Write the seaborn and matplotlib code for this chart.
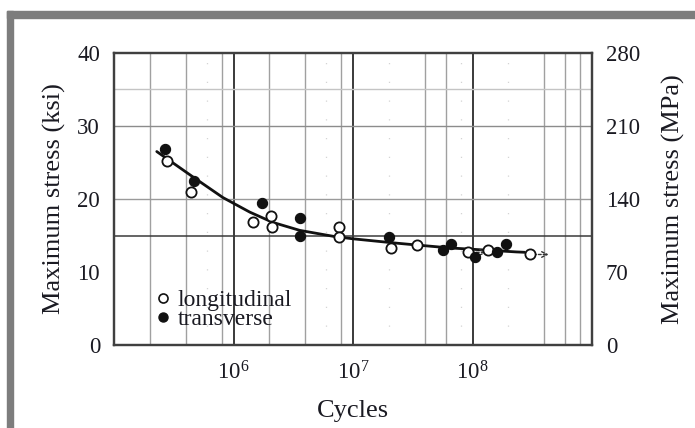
import matplotlib
matplotlib.use("Agg")
import matplotlib.pyplot as plt
from matplotlib.patches import Rectangle
from matplotlib.lines import Line2D
import matplotlib.ticker as mticker
import pandas as pd
import seaborn as sns

# Fatigue results: cycles to failure and maximum stress (ksi)
long_cycles = [2.75e5, 4.37e5, 1.45e6, 2.04e6, 2.08e6, 7.66e6, 7.66e6,
               2.06e7, 3.4e7, 9.1e7, 1.35e8, 3.0e8]
long_stress = [25.2, 20.9, 16.9, 17.7, 16.1, 16.1, 14.8,
               13.3, 13.7, 12.7, 13.0, 12.4]
trans_cycles = [2.67e5, 4.67e5, 1.72e6, 3.59e6, 3.59e6, 2.0e7, 5.67e7,
                6.6e7, 1.04e8, 1.6e8, 1.9e8]
trans_stress = [26.9, 22.5, 19.4, 17.4, 14.9, 14.8, 13.0,
                13.8, 12.0, 12.7, 13.9]

# Run-out specimens (no failure)
runout_cycles = [9.1e7, 3.0e8]
runout_stress = [12.7, 12.4]

# Mean S-N curve
fit_cycles = [2.28e5, 4.6e5, 8.15e5, 1.37e6, 2.13e6, 3.59e6, 6.78e6,
              9.95e6, 2.15e7, 3.4e7, 6.44e7, 2.33e8, 2.73e8]
fit_stress = [26.5, 23.0, 20.2, 18.2, 16.8, 15.7, 14.9,
              14.55, 14.0, 13.7, 13.3, 12.75, 12.7]

ksi_ticks = [0, 10, 20, 30, 40]
mpa_ticks = [0, 70, 140, 210, 280]
cycle_ticks = [1e6, 1e7, 1e8]
cycle_labels = [r"$\mathregular{10^{6}}$", r"$\mathregular{10^{7}}$", r"$\mathregular{10^{8}}$"]

sns.set_style("white")
plt.rcParams["font.family"] = ["Liberation Serif", "DejaVu Serif"]
plt.rcParams["mathtext.fontset"] = "custom"
plt.rcParams["mathtext.rm"] = "Liberation Serif"

TXT = "#1a1a22"
W, H = 695, 428
fig = plt.figure(figsize=(W / 100, H / 100), dpi=100)

# grey frame along the top and left edges
fig.patches.append(Rectangle((7 / W, 0), 6 / W, 1 - 11 / H, transform=fig.transFigure,
                             color="#7d7d7d", zorder=0))
fig.patches.append(Rectangle((7 / W, 1 - 18 / H), 1 - 7 / W, 7 / H, transform=fig.transFigure,
                             color="#7d7d7d", zorder=0))

x0, x1, y0, y1 = 114, 592, 53, 345
ax = fig.add_axes([x0 / W, 1 - y1 / H, (x1 - x0) / W, (y1 - y0) / H])
ax.set_xscale("log")
ax.set_xlim(1e5, 1e9)
ax.set_ylim(0, 40)

# grid lines
for v in [2e5, 4e5, 8e5, 2e6, 4e6, 8e6, 4e7, 6e7, 4e8, 6e8, 8e8]:
    ax.axvline(v, color="#a0a0a0", lw=1.0, zorder=1)
for v in [6e5, 6e6, 2e7, 8e7, 2e8]:
    ax.axvline(v, color="#d4d4d4", lw=0.9, ls=(0, (1, 14)), zorder=1)
for v in cycle_ticks:
    ax.axvline(v, color="#3a3a3a", lw=1.4, zorder=1)
for v, c in [(35, "#c4c4c4"), (30, "#8c8c8c"), (20, "#9a9a9a")]:
    ax.axhline(v, color=c, lw=1.0, zorder=1)
ax.axhline(15, color="#3a3a3a", lw=1.1, zorder=1)

# S-N curve
fit_df = pd.DataFrame({"cycles": fit_cycles, "stress": fit_stress})
sns.lineplot(data=fit_df, x="cycles", y="stress", ax=ax, color="#111111", lw=2.0,
             zorder=3, legend=False)

# run-out arrows
for c, s in zip(runout_cycles, runout_stress):
    ax.annotate("", xy=(c * 1.45, s), xytext=(c * 1.08, s),
                arrowprops=dict(arrowstyle="->", color="#333333", lw=1.0, ls=(0, (2, 1.5)),
                                shrinkA=0, shrinkB=0), zorder=3)

long_df = pd.DataFrame({"cycles": long_cycles, "stress": long_stress})
trans_df = pd.DataFrame({"cycles": trans_cycles, "stress": trans_stress})
sns.scatterplot(data=long_df, x="cycles", y="stress", ax=ax, marker="o", s=54,
                facecolor="white", edgecolor="#111111", linewidth=1.3, zorder=4)
sns.scatterplot(data=trans_df, x="cycles", y="stress", ax=ax, marker="o", s=54,
                color="#111111", edgecolor="#111111", linewidth=0.8, zorder=5)

ax.set_xticks(cycle_ticks)
ax.set_xticklabels(cycle_labels)
ax.xaxis.set_minor_locator(mticker.NullLocator())
ax.set_yticks(ksi_ticks)
ax.tick_params(axis="both", length=0, labelsize=16.5, colors=TXT)
ax.tick_params(axis="x", pad=12)
ax.tick_params(axis="y", pad=10)
ax.set_xlabel("Cycles", fontsize=19, color=TXT, labelpad=11)
ax.set_ylabel("Maximum stress (ksi)", fontsize=19, color=TXT, labelpad=8)
for sp in ax.spines.values():
    sp.set_color("#404040")
    sp.set_linewidth(1.6)
    sp.set_zorder(6)

ax2 = ax.twinx()
ax2.set_ylim(0, 280)
ax2.set_yticks(mpa_ticks)
ax2.tick_params(axis="y", length=0, labelsize=16.5, colors=TXT, pad=10)
ax2.set_ylabel("Maximum stress (MPa)", fontsize=19, color=TXT, labelpad=16)
for sp in ax2.spines.values():
    sp.set_color("#404040")
    sp.set_linewidth(1.6)

handles = [
    Line2D([], [], ls="none", marker="o", ms=6.5, mfc="white", mec="#111111", mew=1.2),
    Line2D([], [], ls="none", marker="o", ms=6.5, mfc="#111111", mec="#111111"),
]
ax.legend(handles, ["longitudinal", "transverse"], loc="upper left",
          bbox_to_anchor=(0.064, 0.23), frameon=False, fontsize=17,
          handlelength=0.6, handletextpad=0.3, labelspacing=-0.1, borderpad=0,
          labelcolor=TXT)

fig.savefig("out.png", dpi=100, facecolor="white")
